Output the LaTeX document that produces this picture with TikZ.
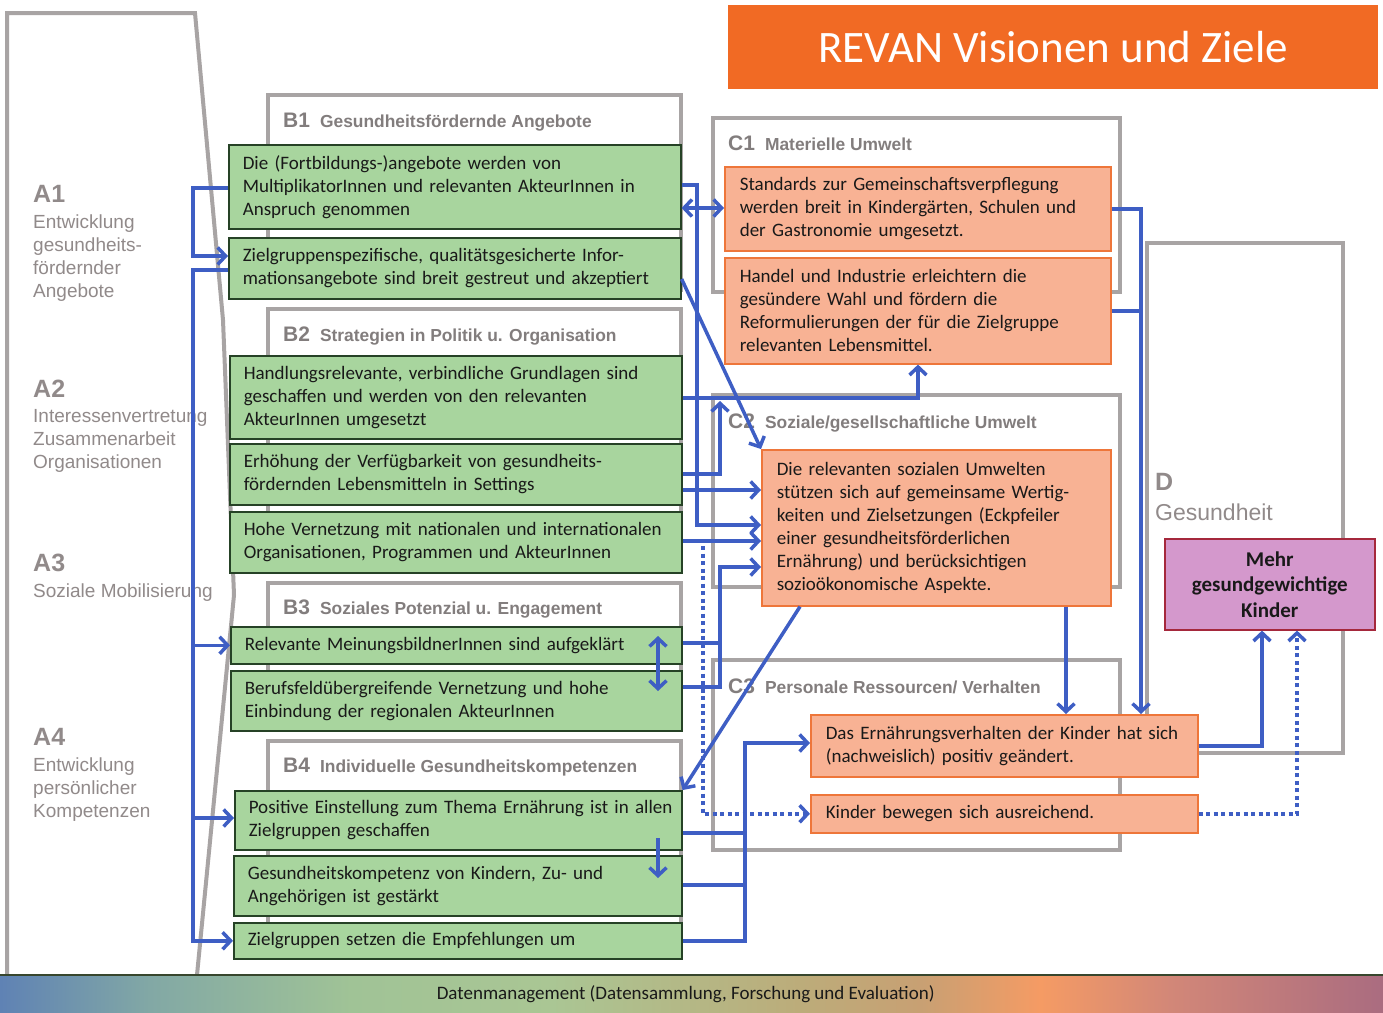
\documentclass[tikz,border=0pt]{standalone}
\usepackage{fontspec}
\setmainfont{Carlito}
\newfontfamily\arialf{Liberation Sans}
\usetikzlibrary{arrows.meta,calc}
\definecolor{gfill}{RGB}{168,213,158}
\definecolor{gline}{RGB}{38,66,38}
\definecolor{ofill}{RGB}{248,178,148}
\definecolor{oline}{RGB}{238,118,58}
\definecolor{pfill}{RGB}{212,152,204}
\definecolor{pline}{RGB}{165,40,60}
\definecolor{frame}{RGB}{168,164,164}
\definecolor{blu}{RGB}{62,94,196}
\definecolor{titleor}{RGB}{241,106,36}
\definecolor{labg}{RGB}{145,138,138}
\definecolor{labb}{RGB}{130,125,125}
\definecolor{txt}{RGB}{25,25,25}
\definecolor{barA}{RGB}{95,130,180}
\definecolor{barB}{RGB}{130,168,165}
\definecolor{barC}{RGB}{160,195,150}
\definecolor{barD}{RGB}{170,198,148}
\definecolor{barE}{RGB}{188,172,122}
\definecolor{barF}{RGB}{200,160,115}
\definecolor{barG}{RGB}{245,155,100}
\definecolor{barH}{RGB}{210,135,120}
\definecolor{barI}{RGB}{170,108,128}
\definecolor{barline}{RGB}{55,70,45}
\pgfdeclarehorizontalshading{databar}{100bp}{color(0bp)=(barA); color(25bp)=(barA); color(30.4bp)=(barB); color(37.7bp)=(barC); color(44.9bp)=(barD); color(53.9bp)=(barE); color(58.3bp)=(barF); color(62.6bp)=(barG); color(67.3bp)=(barH); color(75bp)=(barI); color(100bp)=(barI)}
\tikzset{
  frm/.style={draw=frame, line width=4pt},
  gbox/.style={draw=gline, line width=1.6pt, fill=gfill, anchor=north west, inner xsep=14pt, inner ysep=0pt, align=left, text=txt, font=\fontsize{19}{23}\selectfont},
  obox/.style={draw=oline, line width=1.6pt, fill=ofill, anchor=north west, inner xsep=15pt, inner ysep=0pt, align=left, text=txt, font=\fontsize{19}{23}\selectfont},
  bl/.style={draw=blu, line width=3.5pt},
  bld/.style={draw=blu, line width=3.5pt, dash pattern=on 4pt off 3.5pt},
  myb/.tip={Straight Barb[length=8pt,width=17pt]},
  ahead/.style={font=\arialf\bfseries\fontsize{25}{25}\selectfont, text=labg, inner sep=0pt, anchor=base west},
  atext/.style={font=\arialf\fontsize{19}{23}\selectfont, text=labg, align=left, inner sep=0pt, anchor=north west},
  blab/.style={font=\arialf\bfseries\fontsize{17.4}{17.4}\selectfont, text=labb, inner sep=0pt, anchor=base west},
}
\newcommand{\labbig}{\fontsize{21}{21}\selectfont}
\begin{document}
\begin{tikzpicture}[x=1pt,y=-1pt]
\useasboundingbox (0,0) rectangle (1383,1012);
\fill[white] (0,0) rectangle (1383,1012);

% group frames
\draw[frm] (7,975) -- (7,13) -- (195,13) -- (223,320) -- (234,595) -- (197,975);
\draw[frm] (268,292) |- (681,95) -- (681,292);
\draw[frm] (268,565) |- (681,309) -- (681,565);
\draw[frm] (268,722) |- (681,583) -- (681,722);
\draw[frm] (268,950) |- (681,741) -- (681,950);
\draw[frm] (713,118) rectangle (1120,292);
\draw[frm] (713,395) rectangle (1120,587);
\draw[frm] (713,660) rectangle (1120,850);
\draw[frm] (1147,243) rectangle (1343,753);

% title
\node[fill=titleor, anchor=north west, minimum width=650pt, minimum height=84pt, inner sep=0pt, text=white, font=\fontsize{45}{45}\selectfont] (title) at (728,5) {REVAN Visionen und Ziele};

% data bar
\node[shading=databar, anchor=north west, minimum width=1383pt, minimum height=37pt, inner sep=0pt, text=txt, font=\fontsize{19}{23}\selectfont] (dm) at (0,975) {\hspace*{-12pt}Datenmanagement (Datensammlung, Forschung und Evaluation)};
\draw[draw=barline, line width=1.5pt] (dm.north west) -- (dm.north east);

% A labels
\node[ahead] (a1h) at (33,202) {A1};
\node[atext] (a1t) at (33,214.4) {Entwicklung\\gesundheits-\\fördernder\\Angebote};
\node[ahead] (a2h) at (33,397) {A2};
\node[atext] (a2t) at (33,409.4) {Interessenvertretung\\Zusammenarbeit\\Organisationen};
\node[ahead] (a3h) at (33,571) {A3};
\node[atext] (a3t) at (33,583.4) {Soziale Mobilisierung};
\node[ahead] (a4h) at (33,745) {A4};
\node[atext] (a4t) at (33,757.4) {Entwicklung\\persönlicher\\Kompetenzen};

% B, C, D labels
\node[blab] (b1l) at (283,127) {{\labbig B1}\hspace{10pt}Gesundheitsfördernde Angebote};
\node[blab] (b2l) at (283,341) {{\labbig B2}\hspace{10pt}Strategien in Politik u. Organisation};
\node[blab] (b3l) at (283,614) {{\labbig B3}\hspace{10pt}Soziales Potenzial u. Engagement};
\node[blab] (b4l) at (283,772) {{\labbig B4}\hspace{10pt}Individuelle Gesundheitskompetenzen};
\node[blab] (c1l) at (728,150) {{\labbig C1}\hspace{10pt}Materielle Umwelt};
\node[blab] (c2l) at (728,428) {{\labbig C2}\hspace{10pt}Soziale/gesellschaftliche Umwelt};
\node[blab] (c3l) at (728,693) {{\labbig C3}\hspace{10pt}Personale Ressourcen/ Verhalten};
\node[ahead] (dh) at (1155,490) {D};
\node[inner sep=0pt, anchor=base west, text=labg, font=\arialf\fontsize{23}{23}\selectfont] (dt) at (1155,520) {Gesundheit};

% green boxes
\node[gbox, text width=424pt, minimum height=84pt] (G1) at (228,144) {Die (Fortbildungs-)angebote werden von\\MultiplikatorInnen und relevanten AkteurInnen in\\Anspruch genommen};
\node[gbox, text width=424pt, minimum height=61pt] (G2) at (228,237) {Zielgruppenspezifische, qualitätsgesicherte Infor-\\mationsangebote sind breit gestreut und akzeptiert};
\node[gbox, text width=424pt, minimum height=83pt] (G3) at (229,355) {Handlungsrelevante, verbindliche Grundlagen sind\\geschaffen und werden von den relevanten\\AkteurInnen umgesetzt};
\node[gbox, text width=424pt, minimum height=61pt] (G4) at (229,443) {Erhöhung der Verfügbarkeit von gesundheits-\\fördernden Lebensmitteln in Settings};
\node[gbox, text width=424pt, minimum height=61pt] (G5) at (229,511) {\mbox{Hohe Vernetzung mit nationalen und internationalen}\\Organisationen, Programmen und AkteurInnen};
\node[gbox, text width=423pt, minimum height=37pt] (G6) at (230,626) {Relevante MeinungsbildnerInnen sind aufgeklärt};
\node[gbox, text width=423pt, minimum height=60pt] (G7) at (230,670) {Berufsfeldübergreifende Vernetzung und hohe\\Einbindung der regionalen AkteurInnen};
\node[gbox, text width=419pt, minimum height=59pt] (G8) at (234,790) {\mbox{Positive Einstellung zum Thema Ernährung ist in allen}\\Zielgruppen geschaffen};
\node[gbox, text width=420pt, minimum height=60pt] (G9) at (233,855) {Gesundheitskompetenz von Kindern, Zu- und\\Angehörigen ist gestärkt};
\node[gbox, text width=420pt, minimum height=36pt] (G10) at (233,922) {Zielgruppen setzen die Empfehlungen um};

% orange boxes
\node[obox, text width=356pt, minimum height=84pt] (O1) at (724,166) {Standards zur Gemeinschaftsverpflegung\\werden breit in Kindergärten, Schulen und\\der Gastronomie umgesetzt.};
\node[obox, text width=356pt, minimum height=106pt] (O2) at (724,257) {Handel und Industrie erleichtern die\\gesündere Wahl und fördern die\\Reformulierungen der für die Zielgruppe\\relevanten Lebensmittel.};
\node[obox, text width=319pt, minimum height=156pt] (O3) at (761,449) {Die relevanten sozialen Umwelten\\stützen sich auf gemeinsame Wertig-\\keiten und Zielsetzungen (Eckpfeiler\\einer gesundheitsförderlichen\\Ernährung) und berücksichtigen\\sozioökonomische Aspekte.};
\node[obox, text width=357pt, minimum height=62pt] (O4) at (810,714) {Das Ernährungsverhalten der Kinder hat sich\\(nachweislich) positiv geändert.};
\node[obox, text width=357pt, minimum height=38pt] (O5) at (810,794) {Kinder bewegen sich ausreichend.};

% purple box
\node[draw=pline, line width=1.6pt, fill=pfill, anchor=north west, minimum width=210pt, minimum height=91pt, inner sep=0pt, align=center, text=txt, font=\bfseries\fontsize{21}{25.5}\selectfont] (P) at (1164,538) {Mehr\\gesundgewichtige\\Kinder};

% trunks
\coordinate (tA) at (193,0);
\coordinate (tB) at (697,0);
\coordinate (tC) at (720,0);
\coordinate (tD) at (703,0);
\coordinate (tE) at (745,0);
\coordinate (tF) at (918,0);
\coordinate (tG) at (1066,0);
\coordinate (tH) at (1141,0);
\coordinate (tI) at (1262,0);
\coordinate (tJ) at (1297,0);
\coordinate (tK) at (658,0);

% left connectors
\draw[bl,-myb] (G1.west |- 0,188) -- (tA |- 0,188) -- (tA |- 0,256) -- (G2.west |- 0,256);
\draw[bl,-myb] (G2.west |- 0,270) -- (tA |- 0,270) |- (G10.west);
\draw[bl,-myb] (tA |- G6.west) -- (G6.west);
\draw[bl,-myb] (tA |- 0,818) -- (G8.west |- 0,818);

% middle connectors
\draw[bl,-myb] (G1.east |- 0,185) -- (tB |- 0,185) -- (tB |- 0,525) -- (O3.west |- 0,525);
\draw[bl,myb-myb] (G1.east |- 0,208) -- (O1.west |- 0,208);
\draw[bl,-myb] (G2.east |- 0,279) -- (O3.north west);
\draw[bl,-myb] (G3.east |- 0,398) -- (tF |- 0,398) -- (tF |- O2.south);
\draw[bl,-myb] (G4.east |- 0,474) -- (tC |- 0,474) -- (tC |- 0,401);
\draw[bl,-myb] (G4.east |- 0,490) -- (O3.west |- 0,490);
\draw[bl,-myb] (G5.east |- 0,541) -- (O3.west |- 0,541);
\draw[bl,-myb] (G6.east |- 0,643) -- (tC |- 0,643) -- (tC |- 0,567) -- (O3.west |- 0,567);
\draw[bl] (G7.east |- 0,687) -- (tC |- 0,687) -- (tC |- 0,641);
\draw[bld,-myb] (tD |- 0,546) -- (tD |- O5.west) -- (O5.west);
\draw[bl,-myb] (O3.south -| 800,0) -- (G8.north east);
\draw[bl,myb-myb] (tK |- 0,636) -- (tK |- 0,691);
\draw[bl,-myb] (tK |- 0,838) -- (tK |- 0,878);
\draw[bl,-myb] (G10.east) -- (tE |- G10.east) -- (tE |- 0,743) -- (O4.west |- 0,743);
\draw[bl] (G8.east |- 0,833) -- (tE |- 0,833);
\draw[bl] (G9.east |- 0,885) -- (tE |- 0,885);

% right connectors
\draw[bl,-myb] (tG |- O3.south) -- (tG |- O4.north);
\draw[bl,-myb] (O1.east) -- (tH |- O1.east) -- (tH |- O4.north);
\draw[bl] (O2.east |- 0,311) -- (tH |- 0,311);
\draw[bl,-myb] (O4.east) -- (tI |- O4.east) -- (tI |- P.south);
\draw[bld,-myb] (O5.east) -- (tJ |- O5.east) -- (tJ |- P.south);
\end{tikzpicture}
\end{document}
